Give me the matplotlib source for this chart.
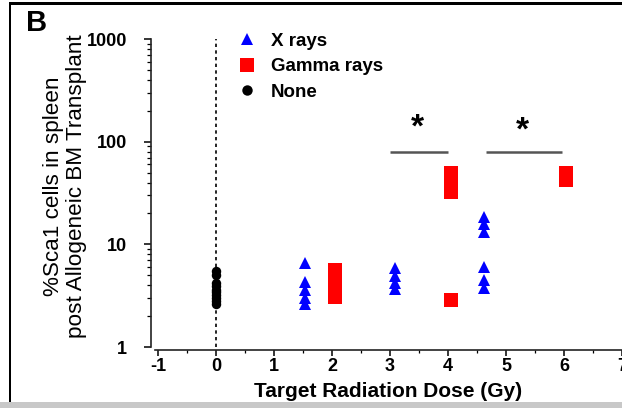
import matplotlib
matplotlib.use("Agg")
import matplotlib.pyplot as plt
from matplotlib.lines import Line2D
from matplotlib.patches import Rectangle

# values (dose in Gy, % Sca1 cells)
none_x = [0.0] * 10
none_y = [5.5, 5.0, 4.2, 3.9, 3.6, 3.4, 3.2, 3.0, 2.8, 2.6]

xray_x = [1.53] * 5 + [3.09] * 4 + [4.62] * 6
xray_y = [6.6, 4.3, 3.6, 3.0, 2.6,
          5.9, 4.9, 4.2, 3.7,
          18.4, 15.8, 13.2, 6.0, 4.5, 3.75]

gamma_x = [2.05] * 6 + [4.05] * 5 + [6.03] * 2
gamma_y = [5.6, 5.0, 4.4, 3.9, 3.5, 3.1,
           50, 43, 37, 32, 2.87,
           50, 42]

# significance brackets: (x start, x end, y, star x, star y)
sig_bars = [(3.0, 4.0, 79, 3.47, 135), (4.65, 5.97, 79, 5.29, 128)]

x_ticks = [-1, 0, 1, 2, 3, 4, 5, 6, 7]
y_ticks = [1, 10, 100, 1000]

BLUE = "#0000ff"
RED = "#ff0000"
GREY = "#555555"

plt.rcParams.update({
    "font.family": ["Liberation Sans", "DejaVu Sans"],
    "font.weight": "bold",
    "axes.unicode_minus": False,
})

fig = plt.figure(figsize=(6.22, 4.08), dpi=100)
ax = fig.add_axes([155 / 622, 61 / 408, 467 / 622, 308 / 408])

ax.axvline(0, color="black", ls=(0, (2, 2)), lw=1.2, zorder=1)

ax.plot(gamma_x, gamma_y, "s", color=RED, ms=10, mec=RED, mew=0, zorder=3)
ax.plot(xray_x, xray_y, "^", color=BLUE, ms=8.5, mec=BLUE, mew=0, zorder=3)
ax.plot(none_x, none_y, "o", color="black", ms=6.8, mew=0, zorder=3)

for x0, x1, yb, xs, ys in sig_bars:
    ax.plot([x0, x1], [yb, yb], color=GREY, lw=1.8, solid_capstyle="butt")
    ax.text(xs, ys, "*", ha="center", va="center", fontsize=24, fontweight="bold")

ax.set_yscale("log")
ax.set_xlim(-1.05, 7.0)
ax.set_ylim(1, 1000)
ax.set_xticks(x_ticks)
ax.set_xticks([t + 0.5 for t in x_ticks[:-1]], minor=True)
ax.set_yticks(y_ticks)
ax.set_yticklabels([str(t) for t in y_ticks])

for s in ("top", "right"):
    ax.spines[s].set_visible(False)
ax.spines["left"].set_position(("outward", 3))
ax.spines["bottom"].set_position(("outward", 2))
for s in ("left", "bottom"):
    ax.spines[s].set_linewidth(1.2)
    ax.spines[s].set_color("#222222")

ax.tick_params(axis="y", which="major", length=5, width=1.1, pad=12, labelsize=13)
ax.tick_params(axis="y", which="minor", length=3, width=0.9)
ax.tick_params(axis="x", which="major", length=4, width=1.1, pad=2, labelsize=13)
ax.tick_params(axis="x", which="minor", length=2.5, width=0.9)

ax.set_xlabel("Target Radiation Dose (Gy)", fontsize=15, fontweight="bold", labelpad=5)
ax.set_ylabel("%Sca1 cells in spleen\npost Allogeneic BM Transplant",
              fontsize=16.2, fontweight="normal", linespacing=1.15)
ax.yaxis.set_label_coords(-0.145, 0.523)

handles = [
    Line2D([], [], ls="none", marker="^", color=BLUE, ms=9, mew=0),
    Line2D([], [], ls="none", marker="s", color=RED, ms=10, mew=0),
    Line2D([], [], ls="none", marker="o", color="black", ms=7.5, mew=0),
]
ax.legend(handles, ["X rays", "Gamma rays", "None"], loc="upper left",
          bbox_to_anchor=(228 / 622, 1 - 23 / 408), bbox_transform=fig.transFigure,
          frameon=False, borderpad=0, handlelength=1.0, handletextpad=0.78,
          labelspacing=0.46, numpoints=1, prop={"size": 13.5, "weight": "bold"})

fig.text(26 / 622, 1 - 23 / 408, "B", fontsize=21, fontweight="bold", va="center")

# panel frame: black top and left edges, grey strip at the bottom
fig.add_artist(Rectangle((10 / 622, 1 - 4.5 / 408), 1, 3 / 408, transform=fig.transFigure,
                         color="black", lw=0))
fig.add_artist(Rectangle((9 / 622, 0), 2 / 622, 1 - 2 / 408, transform=fig.transFigure,
                         color="black", lw=0))
fig.add_artist(Rectangle((0, 0), 1, 6 / 408, transform=fig.transFigure,
                         color="#c8c8c8", lw=0))

fig.savefig("out.png", dpi=100)
